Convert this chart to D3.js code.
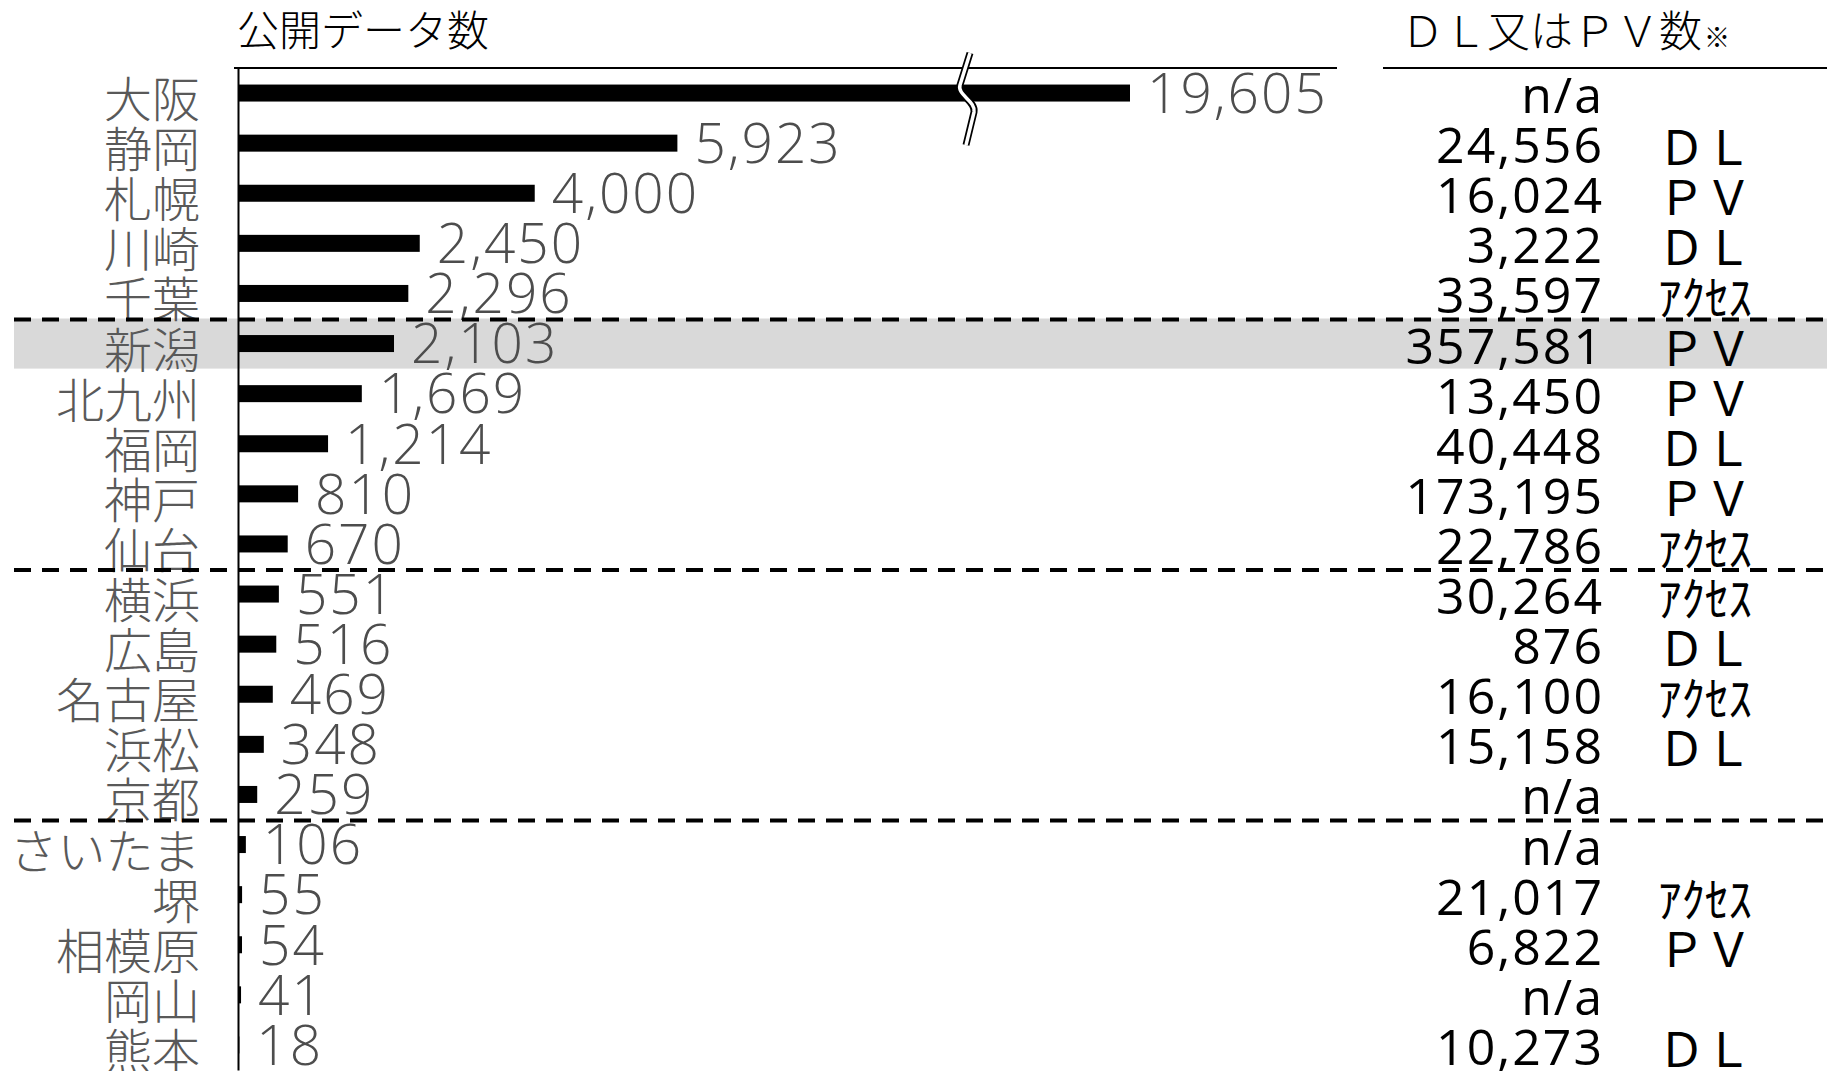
<!DOCTYPE html>
<html><head><meta charset="utf-8">
<script src="https://cdn.jsdelivr.net/npm/d3@7"></script>
<style>html,body{margin:0;padding:0;background:#fff;} svg{display:block}</style>
</head><body><svg id="chart" width="1827" height="1071"></svg>
<script>
// ---- data ----
const cities = ["大阪","静岡","札幌","川崎","千葉","新潟","北九州","福岡","神戸","仙台","横浜","広島","名古屋","浜松","京都","さいたま","堺","相模原","岡山","熊本"];
const publicData = [19605,5923,4000,2450,2296,2103,1669,1214,810,670,551,516,469,348,259,106,55,54,41,18];
const accessCounts = [null,24556,16024,3222,33597,357581,13450,40448,173195,22786,30264,876,16100,15158,null,null,21017,6822,null,10273];
const accessTypes = ["","ＤＬ","ＰＶ","ＤＬ","ｱｸｾｽ","ＰＶ","ＰＶ","ＤＬ","ＰＶ","ｱｸｾｽ","ｱｸｾｽ","ＤＬ","ｱｸｾｽ","ＤＬ","","","ｱｸｾｽ","ＰＶ","","ＤＬ"];
const groupStarts = ["新潟","横浜","さいたま"];
const highlighted = "新潟";
const leftTitle = "公開データ数";
const rightTitle = "ＤＬ又はＰＶ数";
const rightTitleNote = "※";
const naText = "n/a";
const breakValue = 9800;

// ---- layout ----
const W = 1827, H = 1071;
const svg = d3.select("#chart");
const cjk = "'Noto Sans CJK JP','Noto Sans CJK SC',sans-serif";
const numFont = "'Open Sans','Liberation Sans',sans-serif";

const y = d3.scaleBand().domain(cities).range([68, 1070]);
const x = d3.scaleLinear().domain([0, breakValue, d3.max(publicData)]).range([238, 965, 1130]);
const rows = cities.map((c,i)=>({city:c, v:publicData[i], a:accessCounts[i], t:accessTypes[i]}));
const cy = d => y(d.city) + y.bandwidth()/2;
const fmt = d3.format(",");

// highlight band
svg.append("rect")
  .attr("x", 14).attr("width", W - 14)
  .attr("y", y(highlighted)).attr("height", y.bandwidth())
  .attr("fill", "#d9d9d9");

// titles
svg.append("text").attr("x", 237).attr("y", 46)
  .style("font-family", cjk).style("font-size", "42px").style("font-weight", 300)
  .attr("fill", "#000").text(leftTitle);
const rt = svg.append("text").attr("x", 1401).attr("y", 47)
  .style("font-family", cjk).style("font-size", "43px").style("font-weight", 300)
  .attr("fill", "#000");
rt.append("tspan").text(rightTitle);
rt.append("tspan").style("font-size", "26px").attr("dx", 2).text(rightTitleNote);

// top rules
svg.append("line").attr("x1", 234).attr("x2", 1337).attr("y1", 68).attr("y2", 68)
  .attr("stroke", "#000").attr("stroke-width", 2);
svg.append("line").attr("x1", 1383).attr("x2", W).attr("y1", 68).attr("y2", 68)
  .attr("stroke", "#000").attr("stroke-width", 2);

// bars
const barH = 17;
svg.append("g").selectAll("rect").data(rows).join("rect")
  .attr("x", x(0))
  .attr("y", d => cy(d) - barH/2)
  .attr("width", d => x(d.v) - x(0))
  .attr("height", barH)
  .attr("fill", "#000");

// axis with category labels
const axis = svg.append("g").attr("transform", `translate(${x(0)},0)`)
  .call(d3.axisLeft(y).tickSize(0).tickSizeOuter(0).tickPadding(38));
axis.select(".domain").attr("stroke", "#000").attr("stroke-width", 2);
axis.selectAll(".tick text")
  .style("font-family", cjk).style("font-size", "48px").style("font-weight", 300)
  .attr("fill", "#595959").attr("dy", "0.5em");

// value labels
svg.append("g").selectAll("text").data(rows).join("text")
  .attr("x", d => x(d.v) + 17)
  .attr("y", d => cy(d))
  .attr("dy", "0.36em")
  .style("font-family", numFont).style("font-size", "55px").style("font-weight", 300)
  .style("letter-spacing", "2px")
  .attr("fill", "#4d4d4d")
  .text(d => fmt(d.v));

// right column numbers
svg.append("g").selectAll("text").data(rows).join("text")
  .attr("x", 1604)
  .attr("y", d => cy(d) + 20)
  .attr("text-anchor", "end")
  .style("font-family", numFont).style("font-size", "50px").style("font-weight", 400)
  .style("letter-spacing", "2px")
  .attr("fill", "#000")
  .text(d => d.a == null ? naText : fmt(d.a));

// right column types
svg.append("g").selectAll("text").data(rows.filter(d => d.t)).join("text")
  .attr("x", 1658)
  .attr("y", d => cy(d) + 22)
  .style("font-family", cjk).style("font-size", "47px").style("font-weight", 400)
  .attr("fill", "#000")
  .text(d => d.t);

// group dashed lines
svg.append("g").selectAll("line").data(groupStarts).join("line")
  .attr("x1", 14).attr("x2", W)
  .attr("y1", d => y(d) + 1).attr("y2", d => y(d) + 1)
  .attr("stroke", "#000").attr("stroke-width", 4)
  .attr("stroke-dasharray", "17 11");

// axis break symbol on the largest bar
const bx = x(breakValue), by = cy(rows[0]);
const brk = d3.path();
brk.moveTo(bx + 5, by - 40);
brk.lineTo(bx - 5, by - 8);
brk.bezierCurveTo(bx - 8, by + 2, bx + 11, by + 8, bx + 9, by + 19);
brk.lineTo(bx + 1, by + 52);
svg.append("path").attr("d", brk.toString()).attr("fill", "none")
  .attr("stroke", "#000").attr("stroke-width", 7);
svg.append("path").attr("d", brk.toString()).attr("fill", "none")
  .attr("stroke", "#fff").attr("stroke-width", 3.5);
</script>
</body></html>
